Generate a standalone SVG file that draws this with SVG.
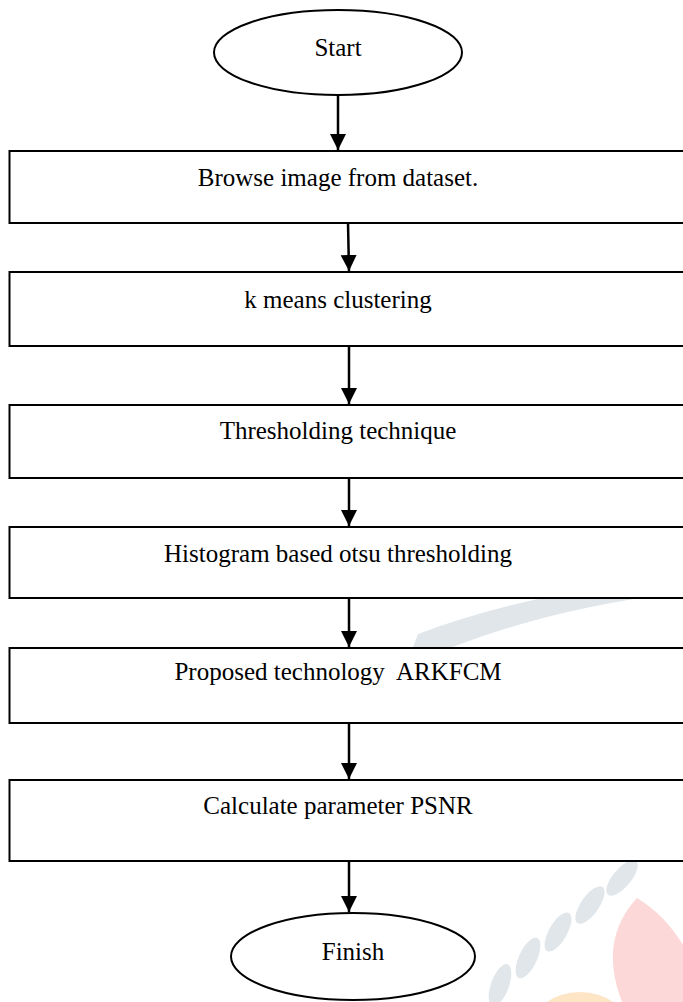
<svg xmlns="http://www.w3.org/2000/svg" width="683" height="1002" viewBox="0 0 683 1002">
<style>
.node{fill:#fff;stroke:#000;stroke-width:2}
.lbl{font-family:"Liberation Serif","Times New Roman",serif;font-size:25px;fill:#000;text-anchor:middle;white-space:pre}
.edge{stroke:#000;stroke-width:2.5;fill:none}
.wm{fill:#e1e6ea}
</style>
<defs>
<marker id="ah" markerUnits="userSpaceOnUse" markerWidth="16" markerHeight="18" refX="16" refY="8" orient="auto">
<path d="M0,0 L16,8 L0,16 Z" fill="#000"/>
</marker>
</defs>
<rect width="683" height="1002" fill="#fff"/>
<g id="watermark">
<path class="wm" d="M405 668 Q520 612 683 592 L683 576 Q530 592 418 634 Z"/>
<g class="wm">
<ellipse cx="622" cy="878" rx="9" ry="22" transform="rotate(40 622 878)"/>
<ellipse cx="590" cy="905" rx="9" ry="22" transform="rotate(35 590 905)"/>
<ellipse cx="558" cy="932" rx="9" ry="22" transform="rotate(30 558 932)"/>
<ellipse cx="528" cy="958" rx="9" ry="22" transform="rotate(25 528 958)"/>
<ellipse cx="500" cy="985" rx="9" ry="22" transform="rotate(20 500 985)"/>
</g>
<path d="M637 898 Q598 940 622 1002 L683 1002 L683 945 Q665 915 637 898 Z" fill="#fdd8d8"/>
<ellipse cx="580" cy="1032" rx="50" ry="40" fill="#fde5c6"/>
</g>
<g id="start"><ellipse class="node" cx="338" cy="52.5" rx="124" ry="42.5"/><text class="lbl" x="338" y="56">Start</text></g>
<g id="browse"><rect class="node" x="9.5" y="151" width="690" height="72"/><text class="lbl" x="338" y="186">Browse image from dataset.</text></g>
<g id="kmeans"><rect class="node" x="9.5" y="272" width="690" height="74"/><text class="lbl" x="338" y="308">k means clustering</text></g>
<g id="thresh"><rect class="node" x="9.5" y="405" width="690" height="73"/><text class="lbl" x="338" y="439">Thresholding technique</text></g>
<g id="otsu"><rect class="node" x="9.5" y="527" width="690" height="71"/><text class="lbl" x="338" y="562">Histogram based otsu thresholding</text></g>
<g id="arkfcm"><rect class="node" x="9.5" y="648" width="690" height="75"/><text class="lbl" x="338" y="680">Proposed technology  ARKFCM</text></g>
<g id="psnr"><rect class="node" x="9.5" y="780" width="690" height="81"/><text class="lbl" x="338" y="814">Calculate parameter PSNR</text></g>
<g id="finish"><ellipse class="node" cx="353" cy="956.5" rx="122" ry="43.5"/><text class="lbl" x="353" y="960">Finish</text></g>
<g id="connectors">
<line class="edge" x1="338" y1="95" x2="338" y2="150" marker-end="url(#ah)"/>
<line class="edge" x1="348" y1="223" x2="349" y2="271" marker-end="url(#ah)"/>
<line class="edge" x1="349" y1="346" x2="349" y2="404" marker-end="url(#ah)"/>
<line class="edge" x1="349" y1="478" x2="349" y2="526" marker-end="url(#ah)"/>
<line class="edge" x1="349" y1="598" x2="349" y2="647" marker-end="url(#ah)"/>
<line class="edge" x1="349" y1="723" x2="349" y2="779" marker-end="url(#ah)"/>
<line class="edge" x1="349" y1="861" x2="349" y2="912" marker-end="url(#ah)"/>
</g>
</svg>
